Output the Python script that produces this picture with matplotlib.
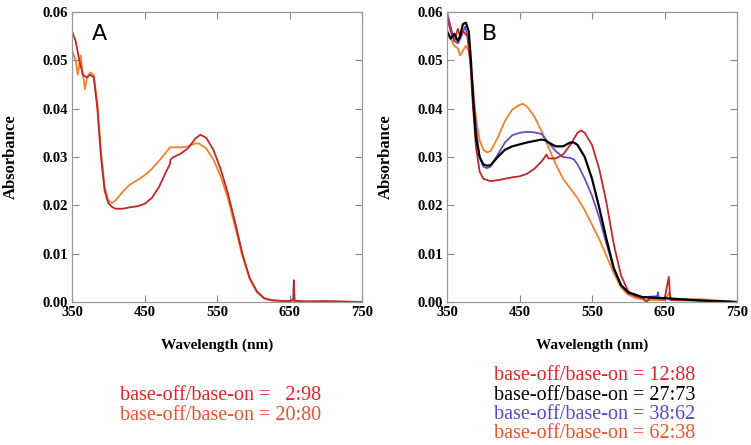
import matplotlib
matplotlib.use('Agg')
import matplotlib.pyplot as plt

# panel A: wavelength (nm) and absorbance
wl_a1 = [350, 355, 360, 365, 370, 375, 380, 385, 390, 395, 400, 405, 410, 420, 430, 440, 450, 460, 470, 480,
         485, 486, 490, 500, 510, 520, 527, 535, 545, 555, 565, 575, 585, 595, 605, 615, 625, 640, 650, 655,
         656, 657, 670, 700, 750]
abs_a1 = [0.056, 0.054, 0.050, 0.047, 0.0465, 0.047, 0.0465, 0.040, 0.030, 0.023, 0.0205, 0.0197, 0.0193,
          0.0193, 0.0196, 0.0198, 0.0203, 0.0215, 0.0238, 0.0270, 0.0285, 0.0295, 0.0300, 0.0307, 0.0318,
          0.0338, 0.0346, 0.0340, 0.0315, 0.0275, 0.0225, 0.0165, 0.0100, 0.0050, 0.0022, 0.0008, 0.0004,
          0.0002, 0.0002, 0.0005, 0.0045, 0.0003, 0.0001, 0.0002, 0.0]

wl_a2 = [350, 355, 358, 362, 365, 368, 370, 375, 380, 385, 390, 395, 400, 405, 410, 420, 430, 440, 450, 460,
         470, 480, 485, 490, 500, 510, 520, 525, 535, 545, 555, 565, 575, 585, 595, 605, 615, 625, 650, 700, 750]
abs_a2 = [0.052, 0.050, 0.047, 0.051, 0.047, 0.044, 0.046, 0.0475, 0.047, 0.041, 0.031, 0.024, 0.021, 0.0205,
          0.021, 0.0228, 0.0243, 0.0252, 0.0262, 0.0275, 0.0292, 0.0310, 0.0320, 0.0320, 0.0320, 0.0322,
          0.0328, 0.0328, 0.0318, 0.0295, 0.0260, 0.0215, 0.0155, 0.0095, 0.0048, 0.0020, 0.0007, 0.0003,
          0.0002, 0.0001, 0.0]

# panel B
wl_b1 = [350, 355, 360, 365, 368, 372, 378, 382, 386, 390, 395, 400, 410, 420, 430, 440, 450, 460, 470, 480,
         485, 487, 490, 500, 510, 520, 530, 535, 540, 550, 560, 570, 580, 590, 600, 610, 620, 625, 630, 650,
         656, 658, 700, 750]
abs_b1 = [0.059, 0.056, 0.054, 0.0565, 0.055, 0.056, 0.055, 0.050, 0.040, 0.032, 0.027, 0.0255, 0.025,
          0.0252, 0.0255, 0.0258, 0.026, 0.0265, 0.0275, 0.0290, 0.030, 0.0305, 0.0297, 0.0297, 0.0305,
          0.0325, 0.0350, 0.0355, 0.0350, 0.0325, 0.0275, 0.0205, 0.0120, 0.0055, 0.0022, 0.0012, 0.0008,
          0.0, 0.0008, 0.0006, 0.0052, 0.0004, 0.0003, 0.0]

wl_b2 = [350, 355, 360, 365, 368, 372, 376, 380, 383, 386, 390, 395, 400, 405, 410, 420, 430, 440, 450, 460,
         470, 480, 485, 490, 500, 510, 520, 525, 530, 540, 550, 560, 570, 580, 590, 600, 610, 620, 650, 700, 750]
abs_b2 = [0.056, 0.0545, 0.0555, 0.054, 0.055, 0.0575, 0.0578, 0.056, 0.050, 0.042, 0.034, 0.030, 0.0285,
          0.0282, 0.0283, 0.0300, 0.0315, 0.0322, 0.0326, 0.0330, 0.0333, 0.0336, 0.0335, 0.0330, 0.0322,
          0.0322, 0.0330, 0.0330, 0.0325, 0.0300, 0.0255, 0.0195, 0.0130, 0.0070, 0.0035, 0.0020, 0.0015,
          0.0010, 0.0008, 0.0003, 0.0]

wl_b3 = [350, 355, 360, 365, 370, 375, 380, 385, 390, 395, 400, 405, 410, 420, 430, 440, 450, 460, 470, 480,
         490, 500, 510, 520, 525, 530, 540, 550, 560, 570, 580, 590, 600, 610, 620, 640, 641, 642, 700, 750]
abs_b3 = [0.060, 0.057, 0.054, 0.0535, 0.055, 0.057, 0.054, 0.045, 0.036, 0.030, 0.028, 0.0277, 0.028,
          0.0305, 0.0330, 0.0345, 0.0350, 0.0352, 0.0351, 0.0348, 0.0330, 0.0312, 0.0300, 0.0298, 0.0295,
          0.0285, 0.0255, 0.0220, 0.0175, 0.0120, 0.0070, 0.0035, 0.0018, 0.0012, 0.0010, 0.0012, 0.0020,
          0.0008, 0.0003, 0.0]

wl_b4 = [350, 355, 360, 365, 368, 372, 376, 380, 385, 390, 395, 400, 405, 410, 420, 430, 440, 450, 455, 460,
         470, 480, 490, 500, 510, 520, 530, 540, 550, 560, 570, 580, 590, 600, 610, 625, 650, 655, 656, 660,
         700, 750]
abs_b4 = [0.056, 0.0545, 0.053, 0.0525, 0.051, 0.052, 0.053, 0.052, 0.046, 0.038, 0.0335, 0.0315, 0.031,
          0.0312, 0.034, 0.0375, 0.0398, 0.0408, 0.041, 0.0405, 0.0385, 0.0355, 0.0320, 0.0285, 0.0255,
          0.0235, 0.0215, 0.0190, 0.0160, 0.0130, 0.0095, 0.0060, 0.0030, 0.0015, 0.0008, 0.0004, 0.0004,
          0.0015, 0.0020, 0.0005, 0.0006, 0.0]

ratios_a = ['  2:98', '20:80']
ratios_b = ['12:88', '27:73', '38:62', '62:38']
xticks = [350, 450, 550, 650, 750]
yticks = [0.00, 0.01, 0.02, 0.03, 0.04, 0.05, 0.06]

crimson = '#c1272d'
orange = '#f0822e'
black = '#000000'
purple = '#6a4bc8'

serif = 'Liberation Serif'

fig = plt.figure(figsize=(7.51, 4.45), dpi=100)
ax_a = fig.add_axes([72 / 751, 143 / 445, 290 / 751, 290 / 445])
ax_b = fig.add_axes([447 / 751, 143 / 445, 290 / 751, 290 / 445])

ax_a.plot(wl_a2, abs_a2, color=orange, lw=1.3)
ax_a.plot(wl_a1, abs_a1, color=crimson, lw=1.3)

ax_b.plot(wl_b4, abs_b4, color=orange, lw=1.3)
ax_b.plot(wl_b3, abs_b3, color=purple, lw=1.3)
ax_b.plot(wl_b1, abs_b1, color=crimson, lw=1.3)
ax_b.plot(wl_b2, abs_b2, color=black, lw=1.6)

for ax, letter, lx in [(ax_a, 'A', 0.07), (ax_b, 'B', 0.12)]:
    ax.set_xlim(350, 750)
    ax.set_ylim(0, 0.06)
    ax.set_xticks(xticks)
    ax.set_yticks(yticks)
    ax.set_yticklabels(['%.2f' % v for v in yticks])
    ax.tick_params(direction='in', top=True, right=True, length=5, color='#888888',
                   labelsize=10.5, pad=3)
    for lab in ax.get_xticklabels() + ax.get_yticklabels():
        lab.set_fontfamily(serif)
        lab.set_fontweight('bold')
    for sp in ax.spines.values():
        sp.set_color('#999999')
        sp.set_linewidth(0.9)
    ax.set_xlabel('Wavelength (nm)', fontfamily=serif, fontweight='bold', fontsize=11, va='center')
    ax.xaxis.set_label_coords(0.5, -0.148)
    ax.set_ylabel('Absorbance', fontfamily=serif, fontweight='bold', fontsize=12, va='center')
    ax.yaxis.set_label_coords(-0.21, 0.5)
    ax.text(lx, 0.925, letter, transform=ax.transAxes, fontsize=16, va='center', ha='left',
            fontfamily='DejaVu Sans')

# ratio captions under each panel
cols_a = ['#e52328', '#e8552d']
for i, (r, c) in enumerate(zip(ratios_a, cols_a)):
    fig.text(120 / 751, 1 - (396 + 19 * i) / 445, 'base-off/base-on = ' + r, color=c,
             fontfamily=serif, fontsize=14.5, va='center', ha='left')

cols_b = ['#e52328', '#000000', '#5b44d6', '#e8552d']
for i, (r, c) in enumerate(zip(ratios_b, cols_b)):
    fig.text(494 / 751, 1 - (376 + 19.3 * i) / 445, 'base-off/base-on = ' + r, color=c,
             fontfamily=serif, fontsize=14.5, va='center', ha='left')

fig.savefig('out.png', dpi=100)
